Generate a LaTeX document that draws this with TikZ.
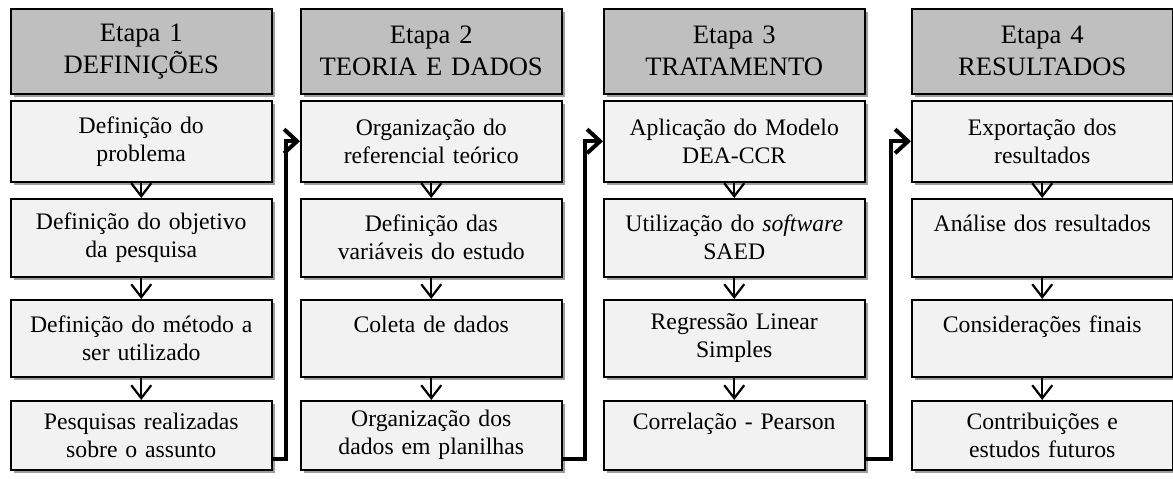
\documentclass[tikz,border=0pt]{standalone}
\usepackage{fontspec}
\setmainfont{Liberation Serif}
\usetikzlibrary{arrows.meta,shadows}

\tikzset{
  etapa/.style={draw=black, fill=black!25, line width=1.5pt, anchor=north west,
    minimum width=261pt, minimum height=85pt, text width=250pt, align=center, inner sep=0pt,
    drop shadow={shadow xshift=3pt, shadow yshift=-3pt, fill=black!38, opacity=1},
    font={\fontsize{26.6}{32}\selectfont}},
  passo/.style={draw=black, fill=black!5, line width=1.5pt, anchor=north west,
    minimum width=261pt, text width=250pt, align=center, inner sep=0pt,
    drop shadow={shadow xshift=3pt, shadow yshift=-3pt, fill=black!38, opacity=1},
    font={\fontsize{23.7}{28}\selectfont}},
  seta/.style={line width=2pt, -{Straight Barb[length=13pt,width=20pt,line width=2.2pt]}},
  ligacao/.style={line width=4pt, -{Straight Barb[length=13pt,width=24pt,line width=4pt]}}
}

\begin{document}
\begin{tikzpicture}[x=1pt, y=-1pt]

\useasboundingbox (0,0) rectangle (1173,479);

% Etapa 1
\node [etapa] (a0) at (10,8) {Etapa 1\\DEFINIÇÕES};
\node [passo, minimum height=81pt] (a1) at (10,100) {Definição do\\problema};
\node [passo, minimum height=78pt] (a2) at (10,198) {Definição do objetivo\\da pesquisa};
\node [passo, minimum height=77pt] (a3) at (10,299) {Definição do método a\\ser utilizado};
\node [passo, minimum height=69pt] (a4) at (10,400) {Pesquisas realizadas\\sobre o assunto};

% Etapa 2
\node [etapa] (b0) at (300,8) {Etapa 2\\TEORIA E DADOS};
\node [passo, minimum height=81pt] (b1) at (300,100) {Organização do\\referencial teórico};
\node [passo, minimum height=78pt] (b2) at (300,198) {Definição das\\variáveis do estudo};
\node [passo, minimum height=77pt] (b3) at (300,299) {Coleta de dados\\\mbox{}};
\node [passo, minimum height=69pt] (b4) at (300,400) {Organização dos\\dados em planilhas};

% Etapa 3
\node [etapa] (c0) at (603,8) {Etapa 3\\TRATAMENTO};
\node [passo, minimum height=81pt] (c1) at (603,100) {Aplicação do Modelo\\DEA-CCR};
\node [passo, minimum height=78pt] (c2) at (603,198) {Utilização do \textit{software}\\SAED};
\node [passo, minimum height=77pt] (c3) at (603,299) {Regressão Linear\\Simples};
\node [passo, minimum height=69pt] (c4) at (603,400) {Correlação - Pearson\\\mbox{}};

% Etapa 4
\node [etapa] (d0) at (911,8) {Etapa 4\\RESULTADOS};
\node [passo, minimum height=81pt] (d1) at (911,100) {Exportação dos\\resultados};
\node [passo, minimum height=78pt] (d2) at (911,198) {Análise dos resultados\\\mbox{}};
\node [passo, minimum height=77pt] (d3) at (911,299) {Considerações finais\\\mbox{}};
\node [passo, minimum height=69pt] (d4) at (911,400) {Contribuições e\\estudos futuros};

% setas dentro das etapas
\draw [seta] (a1) -- (a2);
\draw [seta] (a2) -- (a3);
\draw [seta] (a3) -- (a4);
\draw [seta] (b1) -- (b2);
\draw [seta] (b2) -- (b3);
\draw [seta] (b3) -- (b4);
\draw [seta] (c1) -- (c2);
\draw [seta] (c2) -- (c3);
\draw [seta] (c3) -- (c4);
\draw [seta] (d1) -- (d2);
\draw [seta] (d2) -- (d3);
\draw [seta] (d3) -- (d4);

% ligacoes entre etapas
\draw [ligacao] ([yshift=12pt]a4.south east) -- ++(13,0) |- (b1.west);
\draw [ligacao] ([yshift=12pt]b4.south east) -- ++(22,0) |- (c1.west);
\draw [ligacao] ([yshift=12pt]c4.south east) -- ++(25,0) |- (d1.west);

\end{tikzpicture}
\end{document}
